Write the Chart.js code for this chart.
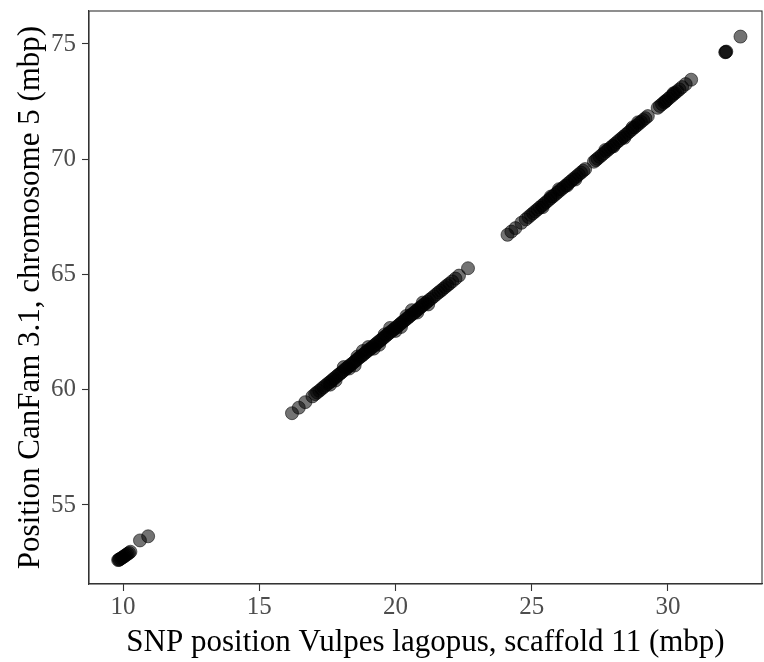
<!DOCTYPE html>
<html>
<head>
<meta charset="utf-8">
<script src="https://cdn.jsdelivr.net/npm/chart.js@4.4.1/dist/chart.umd.min.js"></script>
<style>
  html, body { margin: 0; padding: 0; background: #fff; }
  #wrap { width: 764px; height: 662px; }
</style>
</head>
<body>
<div id="wrap"><canvas id="synteny" width="764" height="662"></canvas></div>
<script>
// SNP positions: [scaffold 11 (mbp), CanFam 3.1 chr 5 (mbp)]
const blockA = [
  [9.82, 52.61], [9.85, 52.62], [9.87, 52.64], [9.91, 52.67], [9.95, 52.70], [9.99, 52.73],
  [10.03, 52.76], [10.07, 52.80], [10.12, 52.84], [10.17, 52.88], [10.22, 52.92],
  [10.27, 52.97], [10.62, 53.46], [10.92, 53.64]
];

const blockB = [
  [16.20, 58.98], [16.45, 59.22], [16.69, 59.46], [16.95, 59.71], [17.05, 59.81],
  [17.12, 59.88], [17.20, 59.95], [17.28, 60.03], [17.35, 60.10], [17.42, 60.17],
  [17.50, 60.25], [17.57, 60.31], [17.63, 60.37], [17.70, 60.44], [17.76, 60.50],
  [17.83, 60.57], [17.90, 60.64], [17.96, 60.69], [18.02, 60.75], [18.08, 60.81],
  [18.15, 60.88], [18.21, 60.94], [18.27, 61.00], [18.33, 61.06], [18.40, 61.12],
  [18.46, 61.18], [18.52, 61.24], [18.58, 61.30], [18.65, 61.37], [18.71, 61.43],
  [18.77, 61.48], [18.83, 61.54], [18.90, 61.61], [18.96, 61.67], [19.02, 61.73],
  [19.08, 61.78], [19.15, 61.85], [19.21, 61.91], [19.27, 61.97], [19.33, 62.03],
  [19.40, 62.10], [19.46, 62.15], [19.52, 62.21], [19.58, 62.27], [19.65, 62.34],
  [19.71, 62.40], [19.77, 62.46], [19.83, 62.52], [19.90, 62.58], [19.96, 62.64],
  [20.02, 62.70], [20.08, 62.76], [20.15, 62.83], [20.21, 62.89], [20.27, 62.95],
  [20.33, 63.00], [20.40, 63.07], [20.46, 63.13], [20.52, 63.19], [20.58, 63.25],
  [20.65, 63.31], [20.71, 63.37], [20.77, 63.43], [20.84, 63.50], [20.90, 63.56],
  [20.96, 63.62], [21.03, 63.68], [21.10, 63.75], [21.17, 63.82], [21.25, 63.90],
  [21.33, 63.97], [21.41, 64.05], [21.50, 64.14], [21.58, 64.22], [21.66, 64.29],
  [21.74, 64.37], [21.82, 64.45], [21.90, 64.53], [21.98, 64.60], [22.08, 64.70],
  [22.20, 64.82], [22.33, 64.95], [22.66, 65.27],
  // slightly off-diagonal SNPs
  [17.60, 60.22], [17.80, 60.40], [18.10, 60.98], [18.30, 60.92], [18.50, 61.05],
  [18.60, 61.44], [18.80, 61.68], [19.00, 61.85], [19.20, 61.78], [19.40, 61.95],
  [19.60, 62.40], [19.80, 62.68], [20.00, 62.55], [20.20, 62.72], [20.40, 63.20],
  [20.60, 63.45], [20.80, 63.35], [21.00, 63.78], [21.20, 63.70]
];

const blockC = [
  [24.11, 66.72], [24.25, 66.86], [24.40, 67.01], [24.62, 67.24], [24.78, 67.39],
  [24.88, 67.49], [24.97, 67.58], [25.05, 67.66], [25.13, 67.74], [25.21, 67.82],
  [25.29, 67.90], [25.37, 67.98], [25.45, 68.06], [25.53, 68.14], [25.61, 68.22],
  [25.69, 68.30], [25.77, 68.38], [25.85, 68.46], [25.93, 68.54], [26.01, 68.62],
  [26.09, 68.70], [26.17, 68.78], [26.25, 68.86], [26.33, 68.94], [26.41, 69.02],
  [26.49, 69.10], [26.57, 69.18], [26.65, 69.26], [26.73, 69.34], [26.81, 69.42],
  [26.89, 69.50], [26.96, 69.57], [27.28, 69.89], [27.35, 69.96], [27.41, 70.02],
  [27.49, 70.10], [27.57, 70.18], [27.65, 70.26], [27.73, 70.34], [27.81, 70.42],
  [27.89, 70.50], [27.97, 70.58], [28.05, 70.66], [28.13, 70.74], [28.21, 70.82],
  [28.29, 70.90], [28.37, 70.98], [28.45, 71.06], [28.53, 71.14], [28.61, 71.22],
  [28.69, 71.30], [28.77, 71.38], [28.85, 71.46], [28.93, 71.54], [29.01, 71.62],
  [29.09, 71.70], [29.17, 71.78], [29.26, 71.87], [29.62, 72.23], [29.70, 72.31],
  [29.78, 72.39], [29.86, 72.47], [29.94, 72.55], [30.02, 72.63], [30.10, 72.71],
  [30.18, 72.79], [30.26, 72.87], [30.34, 72.95], [30.42, 73.03], [30.52, 73.13],
  [30.65, 73.26], [30.85, 73.45],
  [25.40, 67.92], [25.70, 68.38], [26.00, 68.70], [26.30, 68.86], [26.60, 69.12],
  [27.70, 70.40], [28.00, 70.56], [28.40, 70.93], [28.70, 71.38], [28.90, 71.60],
  [29.90, 72.50], [30.20, 72.86]
];

const blockD = [
  [32.10, 74.64], [32.12, 74.65], [32.14, 74.67], [32.66, 75.32]
];

const xTicks = [10, 15, 20, 25, 30];
const yTicks = [55, 60, 65, 70, 75];

const serif = 'Liberation Serif';

const toXY = arr => arr.map(p => ({ x: p[0], y: p[1] }));

// ggplot-style panel border drawn on top of the points
const panelBorder = {
  id: 'panelBorder',
  afterDraw(chart) {
    const { ctx, chartArea: a } = chart;
    ctx.save();
    ctx.strokeStyle = '#333333';
    ctx.lineWidth = 1.1;
    ctx.strokeRect(a.left, a.top, a.right - a.left, a.bottom - a.top);
    ctx.restore();
  }
};

new Chart(document.getElementById('synteny'), {
  type: 'scatter',
  data: {
    datasets: [{
      data: [...toXY(blockA), ...toXY(blockB), ...toXY(blockC), ...toXY(blockD)],
      backgroundColor: 'rgba(0,0,0,0.55)',
      borderColor: 'rgba(0,0,0,0.55)',
      borderWidth: 1,
      pointRadius: 6.5,
      pointHoverRadius: 6.5
    }]
  },
  options: {
    responsive: false,
    devicePixelRatio: 1,
    animation: false,
    events: [],
    layout: { autoPadding: false, padding: { top: 11, right: 2, left: 0, bottom: 0 } },
    plugins: {
      legend: { display: false },
      tooltip: { enabled: false }
    },
    scales: {
      x: {
        type: 'linear',
        min: 8.75,
        max: 33.45,
        afterBuildTicks: s => { s.ticks = xTicks.map(v => ({ value: v })); },
        afterFit: s => { s.height = 78; s.paddingLeft = 0; s.paddingRight = 0; },
        grid: { drawOnChartArea: false, tickLength: 7, tickColor: '#333333', tickWidth: 1.1 },
        border: { color: '#333333', width: 1.1 },
        ticks: { color: '#4d4d4d', font: { family: serif, size: 25 }, padding: 1, maxRotation: 0 },
        title: {
          display: true,
          text: 'SNP position Vulpes lagopus, scaffold 11 (mbp)',
          color: '#000',
          font: { family: serif, size: 31 },
          padding: { top: 0, bottom: 1 }
        }
      },
      y: {
        type: 'linear',
        min: 51.57,
        max: 76.43,
        afterBuildTicks: s => { s.ticks = yTicks.map(v => ({ value: v })); },
        afterFit: s => { s.width = 89; s.paddingTop = 0; s.paddingBottom = 0; },
        grid: { drawOnChartArea: false, tickLength: 7, tickColor: '#333333', tickWidth: 1.1 },
        border: { color: '#333333', width: 1.1 },
        ticks: { color: '#4d4d4d', font: { family: serif, size: 25 }, padding: 6 },
        title: {
          display: true,
          text: 'Position CanFam 3.1, chromosome 5 (mbp)',
          color: '#000',
          font: { family: serif, size: 31 },
          padding: { top: 12, bottom: 0 }
        }
      }
    }
  },
  plugins: [panelBorder]
});
</script>
</body>
</html>
